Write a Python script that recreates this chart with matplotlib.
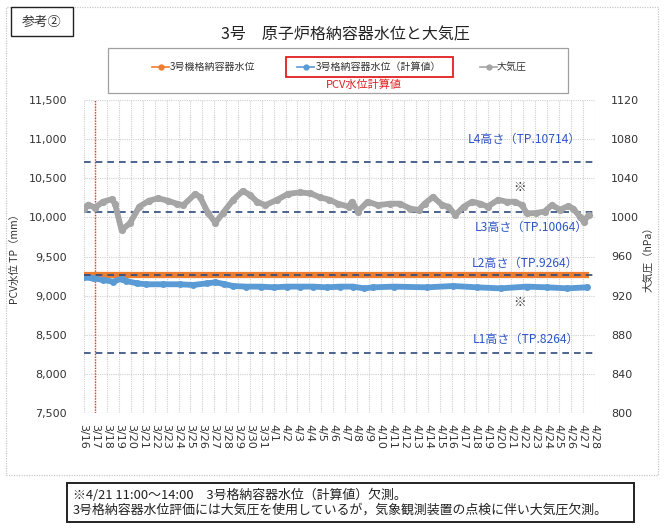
import matplotlib
matplotlib.use("Agg")
import matplotlib.pyplot as plt
from matplotlib.patches import Rectangle
from matplotlib.lines import Line2D
from matplotlib.ticker import FuncFormatter, MultipleLocator

plt.rcParams['font.family'] = ['Noto Sans CJK JP', 'DejaVu Sans']

# ---- data ----
date_labels = ["3/16", "3/17", "3/18", "3/19", "3/20", "3/21", "3/22", "3/23", "3/24", "3/25",
               "3/26", "3/27", "3/28", "3/29", "3/30", "3/31", "4/1", "4/2", "4/3", "4/4",
               "4/5", "4/6", "4/7", "4/8", "4/9", "4/10", "4/11", "4/12", "4/13", "4/14",
               "4/15", "4/16", "4/17", "4/18", "4/19", "4/20", "4/21", "4/22", "4/23", "4/24",
               "4/25", "4/26", "4/27", "4/28"]

# days since 3/16 00:00
pressure_day = [0, 0.4, 0.97, 1.64, 2.37, 2.65, 3.2, 3.9, 4.7, 5.5, 6.3, 7.1, 7.85, 8.4, 9.4, 9.8,
                10.5, 11.1, 11.7, 12.6, 13.4, 14.0, 14.6, 15.3, 16.3, 17.2, 18.2, 19.1, 19.9,
                20.7, 21.4, 22.3, 22.6, 23.1, 23.9, 24.8, 25.8, 26.6, 27.5, 28.2, 28.7, 29.4,
                30.2, 30.7, 31.3, 32.0, 32.7, 33.4, 34.0, 34.9, 35.6, 36.3, 36.9, 37.3, 38.1,
                38.8, 39.4, 40.1, 40.8, 41.2, 41.8, 42.1, 42.5]
pressure_hpa = [1009, 1013, 1010, 1016, 1018.5, 1014, 987, 994, 1011, 1017, 1019.5, 1017, 1014,
                1012.5, 1024, 1021, 1004, 994.5, 1004, 1018, 1027, 1023, 1016, 1012.5, 1018,
                1024, 1025.5, 1024.5, 1020.5, 1018, 1014, 1011, 1016, 1006, 1016, 1012.5,
                1014, 1014, 1009, 1007.5, 1014, 1021, 1012.5, 1011, 1002.5, 1011, 1016, 1014,
                1011, 1018, 1016, 1016, 1012.5, 1004, 1004.5, 1006, 1012.5, 1008, 1011.5,
                1009, 1000.5, 995.5, 1002.5]

calc_day = [0, 0.8, 1.67, 2.5, 3.2, 3.6, 4.5, 5.3, 6.7, 8.1, 9.2, 10.4, 11.1, 11.8, 12.6, 13.7,
            14.9, 16.0, 17.1, 18.2, 19.3, 20.5, 21.6, 22.7, 23.6, 24.4, 26.1, 28.9, 31.1,
            33.1, 35.1, 37.3, 39.0, 40.7, 42.4]
calc_level = [9234, 9221, 9200, 9178, 9217, 9187, 9157, 9145, 9145, 9145, 9136, 9157, 9170,
              9149, 9123, 9115, 9115, 9106, 9115, 9115, 9115, 9106, 9115, 9115, 9093, 9106,
              9115, 9106, 9123, 9106, 9093, 9115, 9106, 9093, 9106]

meas_day = [0, 5, 10, 15, 20, 25, 30, 35, 40, 42.5]
meas_level = [9264, 9264, 9264, 9264, 9264, 9264, 9264, 9264, 9264, 9264]

level_names = ["L4高さ（TP.10714）", "L3高さ（TP.10064）", "L2高さ（TP.9264）", "L1高さ（TP.8264）"]
level_values = [10714, 10064, 9264, 8264]

W, H = 666, 530
fig = plt.figure(figsize=(W / 100, H / 100), dpi=100)

def fx(x):
    return x / W

def fy(y):
    return 1 - y / H

ax_l, ax_r, ax_t, ax_b = 83.5, 594.5, 100, 413
ax = fig.add_axes([fx(ax_l), fy(ax_b), fx(ax_r - ax_l), (ax_b - ax_t) / H])
ax2 = ax.twinx()

ax.set_xlim(0, 43)
ax.set_ylim(7500, 11500)
ax2.set_ylim(800, 1120)

grid_c = "#D0D0D0"
ax.set_xticks(range(len(date_labels)))
ax.set_xticklabels(date_labels, rotation=-90, fontsize=7.3, family='DejaVu Sans')
ax.yaxis.set_major_locator(MultipleLocator(500))
ax.yaxis.set_major_formatter(FuncFormatter(lambda v, p: f"{int(v):,}"))
ax2.yaxis.set_major_locator(MultipleLocator(40))
ax.grid(True, color=grid_c, linestyle=(0, (1, 1)), linewidth=0.8)
ax.tick_params(axis='both', length=0, labelsize=8, colors='#333333')
ax.tick_params(axis='x', pad=8)
ax.tick_params(axis='y', pad=12)
ax2.tick_params(axis='y', length=0, labelsize=8, colors='#333333', pad=12)
for a in (ax, ax2):
    for s in a.spines.values():
        s.set_visible(False)
for lab in ax.get_yticklabels() + ax2.get_yticklabels():
    lab.set_family('DejaVu Sans')

# red vertical reference line at 3/17
ax.axvline(1, color='#FF3030', linestyle=(0, (1, 1)), linewidth=1.0, zorder=2)

# series
ax.plot(meas_day, meas_level, color='#ED7D31', linewidth=4.5, zorder=3,
        solid_capstyle='butt')
ax.plot(calc_day, calc_level, color='#5B9BD5', linewidth=4.2, zorder=3,
        solid_joinstyle='round', solid_capstyle='round',
        marker='o', markersize=5, markeredgewidth=0)
ax2.plot(pressure_day, pressure_hpa, color='#A5A5A5', linewidth=4.2, zorder=3,
         solid_joinstyle='round', solid_capstyle='round',
         marker='o', markersize=5.2, markeredgewidth=0)

# level lines and labels
dash_c = '#2E4A7D'
for v in level_values:
    ax.axhline(v, color=dash_c, linestyle=(0, (4, 3)), linewidth=1.2, zorder=4)

label_c = '#2F55C8'
label_pos = [(37.1, 11002), (37.7, 9877), (37.2, 9417), (37.2, 8446)]
for name, (xx, yy) in zip(level_names, label_pos):
    ax.text(xx, yy, name, color=label_c, fontsize=8.7, ha='center', va='center', zorder=5)
ax.text(36.7, 10388, "※", fontsize=9, ha='center', va='center', color='#333333')
ax.text(36.7, 8906, "※", fontsize=9, ha='center', va='center', color='#333333')

ax.set_ylabel("PCV水位 TP（mm）", fontsize=7.5, color='#333333', labelpad=6)
ax.yaxis.set_label_coords(fx(20 - ax_l) / fx(ax_r - ax_l), 0.5)
ax2.set_ylabel("大気圧（hPa）", fontsize=7.5, color='#333333')
ax2.yaxis.set_label_coords((643 - ax_l) / (ax_r - ax_l), 0.5)

# title
fig.text(fx(345), fy(35), "3号　原子炉格納容器水位と大気圧", fontsize=11.5, ha='center',
         va='center', color='#222222')

# outer frame and reference box
fig.add_artist(Rectangle((fx(6), fy(475)), fx(652), 468 / H, fill=False,
                         edgecolor='#C8C8C8', linestyle=(0, (1, 1)), linewidth=0.9))
fig.add_artist(Rectangle((fx(11), fy(36)), fx(62), 29 / H, fill=True, facecolor='white',
                         edgecolor='#222222', linewidth=1.0))
fig.text(fx(42), fy(22), "参考②", fontsize=9.5, ha='center', va='center', color='#333333')

# legend box
fig.add_artist(Rectangle((fx(108), fy(93)), fx(460), 45 / H, fill=False,
                         edgecolor='#A0A0A0', linewidth=0.9))
fig.add_artist(Rectangle((fx(286), fy(77)), fx(167), 20 / H, fill=False,
                         edgecolor='#E02020', linewidth=1.3))
leg_y = 67
entries = [(152, 170, '#ED7D31', "3号機格納容器水位"),
           (297, 316, '#5B9BD5', "3号格納容器水位（計算値）"),
           (480, 497, '#A5A5A5', "大気圧")]
for x0, xt, c, t in entries:
    fig.add_artist(Line2D([fx(x0), fx(x0 + 17)], [fy(leg_y), fy(leg_y)], color=c, linewidth=1.2))
    fig.add_artist(Line2D([fx(x0 + 8.5)], [fy(leg_y)], marker='o', markersize=3.5, color=c))
    fig.text(fx(xt), fy(leg_y), t, fontsize=7.2, ha='left', va='center', color='#333333')
fig.text(fx(364), fy(85), "PCV水位計算値", fontsize=8, ha='center', va='center', color='#E02020')

# note box
fig.add_artist(Rectangle((fx(67), fy(522)), fx(567), 39 / H, fill=False,
                         edgecolor='#222222', linewidth=1.4))
fig.text(fx(73), fy(495), "※4/21 11:00～14:00　3号格納容器水位（計算値）欠測。", fontsize=9.3,
         ha='left', va='center', color='#222222')
fig.text(fx(73), fy(510), "3号格納容器水位評価には大気圧を使用しているが，気象観測装置の点検に伴い大気圧欠測。",
         fontsize=9.3, ha='left', va='center', color='#222222')

fig.savefig("out.png", dpi=100)
